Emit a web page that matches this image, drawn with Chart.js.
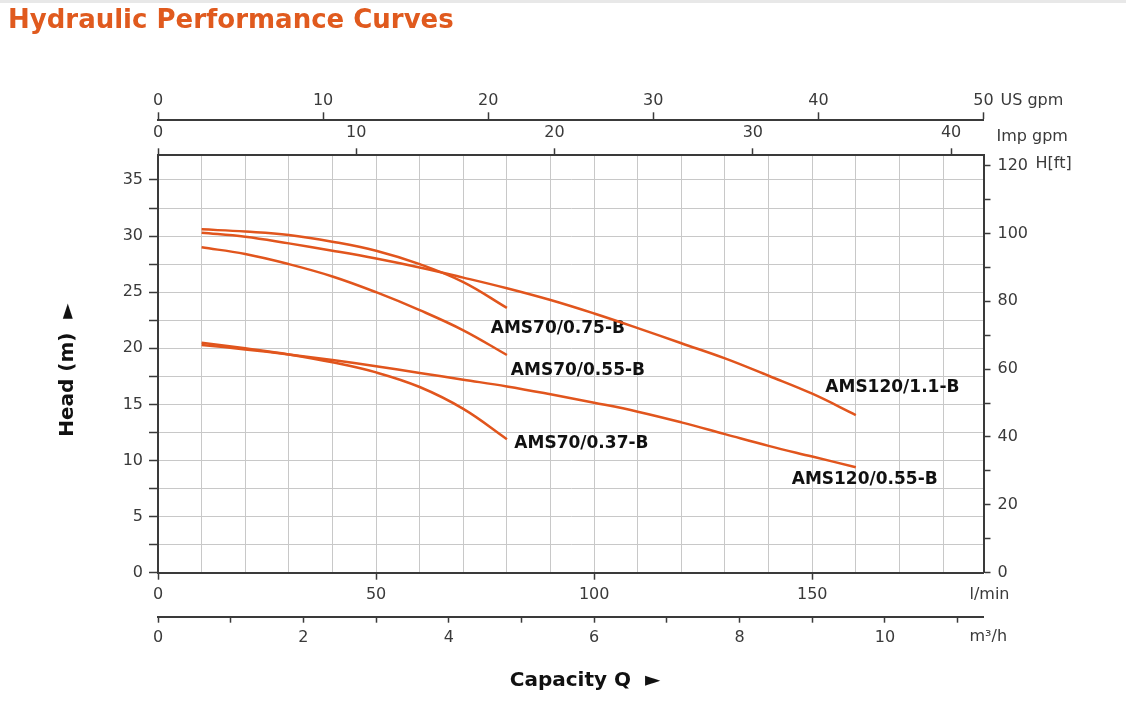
<!DOCTYPE html>
<html>
<head>
<meta charset="utf-8">
<title>Hydraulic Performance Curves</title>
<script src="https://cdn.jsdelivr.net/npm/chart.js@4.4.1/dist/chart.umd.min.js"></script>
<style>
  html, body { margin: 0; padding: 0; background: #fff; }
  #wrap { width: 1126px; height: 710px; }
</style>
</head>
<body>
<div id="wrap"><canvas id="curves" width="1126" height="710"></canvas></div>
<script>
// flow points in l/min
const flow70 = [10, 20, 30, 40, 50, 60, 70, 80];
const flow120 = [10, 20, 30, 40, 50, 60, 70, 80, 90, 100, 110, 120, 130, 140, 150, 160];

// head in m
const headAms70_075 = [30.6, 30.4, 30.1, 29.5, 28.7, 27.5, 25.9, 23.6];
const headAms70_055 = [29.0, 28.4, 27.5, 26.4, 25.0, 23.4, 21.6, 19.4];
const headAms70_037 = [20.5, 20.0, 19.45, 18.75, 17.85, 16.55, 14.6, 11.9];
const headAms120_11 = [30.3, 29.95, 29.35, 28.7, 28.0, 27.2, 26.3, 25.35, 24.3, 23.1, 21.8, 20.45, 19.1, 17.55, 15.95, 14.05];
const headAms120_055 = [20.3, 19.9, 19.45, 18.95, 18.4, 17.8, 17.2, 16.6, 15.9, 15.15, 14.35, 13.4, 12.35, 11.3, 10.35, 9.4];

const curveNames = ["AMS70/0.75-B", "AMS70/0.55-B", "AMS120/1.1-B", "AMS70/0.37-B", "AMS120/0.55-B"];
// where each name sits, in l/min and m
const labelFlow = [76.3, 80.9, 153.0, 81.7, 145.3];
const labelHead = [21.8, 18.0, 16.5, 11.5, 8.3];

// labelled tick values
const lpmTicks = [0, 50, 100, 150];
const m3hTicks = [0, 2, 4, 6, 8, 10];
const usTicks = [0, 10, 20, 30, 40, 50];
const impTicks = [0, 10, 20, 30, 40];
const headTicks = [0, 5, 10, 15, 20, 25, 30, 35];
const ftTicks = [0, 20, 40, 60, 80, 100, 120];

const LPM_PER_USGPM = 3.78541;
const LPM_PER_IMPGPM = 4.54609;
const LPM_PER_M3H = 1000 / 60;
const maxFlow = 50 * LPM_PER_USGPM;
const maxHead = 37.2;
const maxFt = 123;

const ink = "#3a3a3a";
const gridGrey = "#c8c8c8";
const curveColor = "#e1551d";
const titleColor = "#e05a1e";
const fontFamily = "'DejaVu Sans', sans-serif";
const tickFont = { family: fontFamily, size: 16 };
const none = "rgba(0,0,0,0)";

const isOn = (list, v) => list.some(t => Math.abs(t - v) < 1e-6);
const toPoints = (xs, ys) => xs.map((x, i) => ({ x: x, y: ys[i] }));

function curve(label, xs, ys) {
  return {
    label,
    data: toPoints(xs, ys),
    borderColor: curveColor,
    borderWidth: 2.5,
    pointRadius: 0,
    tension: 0.4,
    fill: false,
    xAxisID: "x",
    yAxisID: "y"
  };
}

const decor = {
  id: "decor",
  beforeDraw(chart) {
    const ctx = chart.ctx;
    ctx.save();
    ctx.fillStyle = "#fff";
    ctx.fillRect(0, 0, chart.width, chart.height);
    ctx.fillStyle = "#e8e8e8";
    ctx.fillRect(0, 0, chart.width, 3);
    ctx.restore();
  },
  beforeDatasetsDraw(chart) {
    const { ctx, scales } = chart;
    ctx.save();
    ctx.font = "bold 17px " + fontFamily;
    ctx.fillStyle = "#111";
    ctx.textAlign = "left";
    ctx.textBaseline = "middle";
    curveNames.forEach((name, i) => {
      ctx.fillText(name, scales.x.getPixelForValue(labelFlow[i]), scales.y.getPixelForValue(labelHead[i]));
    });
    ctx.restore();
  },
  afterDraw(chart) {
    const { ctx, chartArea: a } = chart;
    ctx.save();
    ctx.textBaseline = "middle";
    ctx.textAlign = "left";

    ctx.fillStyle = titleColor;
    ctx.font = "bold 26px " + fontFamily;
    ctx.fillText("Hydraulic Performance Curves", 8, 21);

    ctx.fillStyle = ink;
    ctx.font = "16px " + fontFamily;
    ctx.fillText("US gpm", a.right + 17, 101);
    ctx.fillText("Imp gpm", a.right + 13, 137);
    ctx.fillText("H[ft]", a.right + 52, 164);
    ctx.fillText("l/min", a.right - 14, 595);
    ctx.fillText("m³/h", a.right - 14, 637);

    ctx.fillStyle = "#111";
    ctx.font = "bold 20px " + fontFamily;
    ctx.textAlign = "center";
    ctx.fillText("Capacity Q  ►", 585, 681);
    ctx.translate(68, 370);
    ctx.rotate(-Math.PI / 2);
    ctx.fillText("Head (m)  ►", 0, 0);
    ctx.restore();
  }
};

new Chart(document.getElementById("curves"), {
  type: "line",
  data: {
    datasets: [
      curve(curveNames[0], flow70, headAms70_075),
      curve(curveNames[1], flow70, headAms70_055),
      curve(curveNames[2], flow120, headAms120_11),
      curve(curveNames[3], flow70, headAms70_037),
      curve(curveNames[4], flow120, headAms120_055)
    ]
  },
  options: {
    responsive: false,
    animation: false,
    layout: { padding: { left: 8, right: 0, top: 85, bottom: 43.3 } },
    plugins: { legend: { display: false }, tooltip: { enabled: false } },
    scales: {
      x: {
        type: "linear", position: "bottom", weight: 1,
        min: 0, max: maxFlow,
        ticks: {
          stepSize: 10, includeBounds: false, autoSkip: false, maxRotation: 0,
          padding: 6, color: ink, font: tickFont,
          callback: v => isOn(lpmTicks, v) ? String(v) : ""
        },
        grid: {
          color: gridGrey, lineWidth: 1, tickLength: 7, tickWidth: 1.5,
          tickColor: c => (c.tick && isOn(lpmTicks, c.tick.value)) ? ink : none
        },
        border: { color: ink, width: 2 },
        afterFit: s => { s.height = 44; }
      },
      xM3h: {
        type: "linear", position: "bottom", weight: 2,
        min: 0, max: maxFlow / LPM_PER_M3H,
        ticks: {
          stepSize: 1, includeBounds: false, autoSkip: false, maxRotation: 0,
          padding: 6, color: ink, font: tickFont,
          callback: v => isOn(m3hTicks, v) ? String(v) : ""
        },
        grid: { drawOnChartArea: false, tickLength: 6, tickWidth: 1.5, tickColor: ink },
        border: { color: ink, width: 2 },
        afterFit: s => { s.height = 50; }
      },
      xImp: {
        type: "linear", position: "top", weight: 1,
        min: 0, max: maxFlow / LPM_PER_IMPGPM,
        ticks: {
          stepSize: 10, includeBounds: false, autoSkip: false, maxRotation: 0,
          padding: 6, color: ink, font: tickFont,
          callback: v => isOn(impTicks, v) ? String(v) : ""
        },
        grid: { drawOnChartArea: false, tickLength: 7, tickWidth: 1.5, tickColor: ink },
        border: { color: ink, width: 2 },
        afterFit: s => { s.height = 35; }
      },
      xUs: {
        type: "linear", position: "top", weight: 2,
        min: 0, max: 50,
        ticks: {
          stepSize: 10, autoSkip: false, maxRotation: 0,
          padding: 2, color: ink, font: tickFont,
          callback: v => isOn(usTicks, v) ? String(v) : ""
        },
        grid: { drawOnChartArea: false, tickLength: 8, tickWidth: 1.5, tickColor: ink },
        border: { color: ink, width: 2 },
        afterFit: s => { s.height = 35.3; }
      },
      y: {
        type: "linear", position: "left",
        min: 0, max: maxHead,
        ticks: {
          stepSize: 2.5, includeBounds: false, autoSkip: false,
          padding: 6, color: ink, font: tickFont,
          callback: v => isOn(headTicks, v) ? String(v) : ""
        },
        grid: { color: gridGrey, lineWidth: 1, tickLength: 9, tickWidth: 1.5, tickColor: ink },
        border: { color: ink, width: 2 },
        afterFit: s => { s.width = 150; }
      },
      yFt: {
        type: "linear", position: "right",
        min: 0, max: maxFt,
        ticks: {
          stepSize: 10, includeBounds: false, autoSkip: false,
          padding: 7, color: ink, font: tickFont,
          callback: v => isOn(ftTicks, v) ? String(v) : ""
        },
        grid: { drawOnChartArea: false, tickLength: 7, tickWidth: 1.5, tickColor: ink },
        border: { color: ink, width: 2 },
        afterFit: s => { s.width = 1126 - 983.5; }
      }
    }
  },
  plugins: [decor]
});
</script>
</body>
</html>
